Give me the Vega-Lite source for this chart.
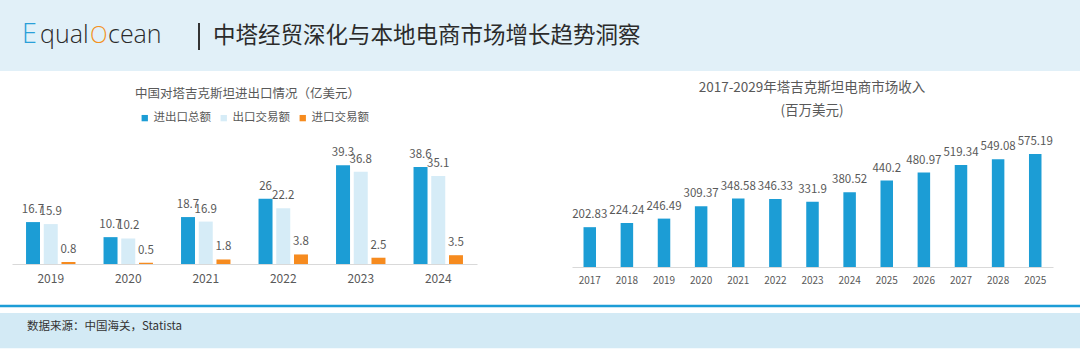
{
  "$schema": "https://vega.github.io/schema/vega-lite/v6.json",
  "width": 1080,
  "height": 362,
  "autosize": {"type": "none"},
  "padding": 0,
  "background": "#ffffff",
  "config": {"view": {"stroke": null}, "font": "Noto Sans CJK SC"},
  "datasets": {
    "trade": [
      {"年份": "2019", "类别": "进出口总额", "金额": 16.7},
      {"年份": "2019", "类别": "出口交易额", "金额": 15.9},
      {"年份": "2019", "类别": "进口交易额", "金额": 0.8},
      {"年份": "2020", "类别": "进出口总额", "金额": 10.7},
      {"年份": "2020", "类别": "出口交易额", "金额": 10.2},
      {"年份": "2020", "类别": "进口交易额", "金额": 0.5},
      {"年份": "2021", "类别": "进出口总额", "金额": 18.7},
      {"年份": "2021", "类别": "出口交易额", "金额": 16.9},
      {"年份": "2021", "类别": "进口交易额", "金额": 1.8},
      {"年份": "2022", "类别": "进出口总额", "金额": 26},
      {"年份": "2022", "类别": "出口交易额", "金额": 22.2},
      {"年份": "2022", "类别": "进口交易额", "金额": 3.8},
      {"年份": "2023", "类别": "进出口总额", "金额": 39.3},
      {"年份": "2023", "类别": "出口交易额", "金额": 36.8},
      {"年份": "2023", "类别": "进口交易额", "金额": 2.5},
      {"年份": "2024", "类别": "进出口总额", "金额": 38.6},
      {"年份": "2024", "类别": "出口交易额", "金额": 35.1},
      {"年份": "2024", "类别": "进口交易额", "金额": 3.5}
    ],
    "ecom": [
      {"年份": "2017", "标签": "2017", "收入": 202.83},
      {"年份": "2018", "标签": "2018", "收入": 224.24},
      {"年份": "2019", "标签": "2019", "收入": 246.49},
      {"年份": "2020", "标签": "2020", "收入": 309.37},
      {"年份": "2021", "标签": "2021", "收入": 348.58},
      {"年份": "2022", "标签": "2022", "收入": 346.33},
      {"年份": "2023", "标签": "2023", "收入": 331.9},
      {"年份": "2024", "标签": "2024", "收入": 380.52},
      {"年份": "2025", "标签": "2025", "收入": 440.2},
      {"年份": "2026", "标签": "2026", "收入": 480.97},
      {"年份": "2027", "标签": "2027", "收入": 519.34},
      {"年份": "2028", "标签": "2028", "收入": 549.08},
      {"年份": "2029", "标签": "2025", "收入": 575.19}
    ]
  },
  "layer": [
    {
      "data": {"values": [{"k": "header"}]},
      "mark": {"type": "rect", "color": "#e1f0f8"},
      "encoding": {"x": {"value": 0}, "x2": {"value": 1080}, "y": {"value": 0}, "y2": {"value": 71}}
    },
    {
      "data": {"values": [{"k": "line"}]},
      "mark": {"type": "rect", "color": "#1d9dd6"},
      "encoding": {"x": {"value": 0}, "x2": {"value": 1080}, "y": {"value": 304.8}, "y2": {"value": 307.3}}
    },
    {
      "data": {"values": [{"k": "footer"}]},
      "mark": {"type": "rect", "color": "#d3eaf5"},
      "encoding": {"x": {"value": 0}, "x2": {"value": 1080}, "y": {"value": 313}, "y2": {"value": 348.3}}
    },
    {
      "data": {"values": [{"t": "E"}]},
      "mark": {"type": "text", "font": "Open Sans", "fontWeight": 300, "fontSize": 27, "align": "left", "baseline": "alphabetic", "color": "#2a9fd8"},
      "encoding": {"text": {"field": "t"}, "x": {"value": 22}, "y": {"value": 43}}
    },
    {
      "data": {"values": [{"t": "qual"}]},
      "mark": {"type": "text", "font": "Open Sans", "fontWeight": 300, "fontSize": 25, "align": "left", "baseline": "alphabetic", "color": "#2a2a2a"},
      "encoding": {"text": {"field": "t"}, "x": {"value": 40}, "y": {"value": 43}}
    },
    {
      "data": {"values": [{"t": "O"}]},
      "mark": {"type": "text", "font": "Open Sans", "fontWeight": 300, "fontSize": 23, "align": "left", "baseline": "alphabetic", "color": "#f39222"},
      "encoding": {"text": {"field": "t"}, "x": {"value": 90}, "y": {"value": 43}}
    },
    {
      "data": {"values": [{"t": "cean"}]},
      "mark": {"type": "text", "font": "Open Sans", "fontWeight": 300, "fontSize": 25, "align": "left", "baseline": "alphabetic", "color": "#2a2a2a"},
      "encoding": {"text": {"field": "t"}, "x": {"value": 108}, "y": {"value": 43}}
    },
    {
      "data": {"values": [{"k": "sep"}]},
      "mark": {"type": "rule", "color": "#333333", "strokeWidth": 2},
      "encoding": {"x": {"value": 199}, "y": {"value": 23}, "y2": {"value": 50}}
    },
    {
      "data": {"values": [{"t": "中塔经贸深化与本地电商市场增长趋势洞察"}]},
      "mark": {"type": "text", "fontSize": 22.5, "align": "left", "baseline": "middle", "color": "#2b2b2b"},
      "encoding": {"text": {"field": "t"}, "x": {"value": 213}, "y": {"value": 36}}
    },
    {
      "data": {"values": [{"t": "中国对塔吉克斯坦进出口情况（亿美元）"}]},
      "mark": {"type": "text", "fontSize": 12.5, "align": "center", "baseline": "middle", "color": "#595959"},
      "encoding": {"text": {"field": "t"}, "x": {"value": 247.5}, "y": {"value": 94}}
    },
    {
      "data": {"values": [{"t": "2017-2029年塔吉克斯坦电商市场收入"}]},
      "mark": {"type": "text", "fontSize": 13.5, "align": "center", "baseline": "middle", "color": "#595959"},
      "encoding": {"text": {"field": "t"}, "x": {"value": 812}, "y": {"value": 88}}
    },
    {
      "data": {"values": [{"t": "(百万美元)"}]},
      "mark": {"type": "text", "fontSize": 13.5, "align": "center", "baseline": "middle", "color": "#595959"},
      "encoding": {"text": {"field": "t"}, "x": {"value": 812}, "y": {"value": 111}}
    },
    {
      "data": {"values": [{"t": "数据来源：中国海关，Statista"}]},
      "mark": {"type": "text", "fontSize": 11.5, "align": "left", "baseline": "middle", "color": "#333333"},
      "encoding": {"text": {"field": "t"}, "x": {"value": 27}, "y": {"value": 327}}
    },
    {
      "data": {"name": "trade"},
      "encoding": {
        "x": {
          "field": "年份", "type": "nominal",
          "scale": {"range": [12, 477], "paddingInner": 0.362, "paddingOuter": 0.181},
          "axis": {"orient": "bottom", "offset": -98, "title": null, "domainColor": "#d9d9d9", "domainWidth": 1, "ticks": false, "tickSize": 0, "labelPadding": 9, "labelFontSize": 12, "labelColor": "#595959", "labelAngle": 0, "labelFont": "Noto Sans CJK SC"}
        },
        "xOffset": {
          "field": "类别", "type": "nominal", "sort": ["进出口总额", "出口交易额", "进口交易额"],
          "scale": {"paddingInner": 0.21, "paddingOuter": 0}
        },
        "y": {
          "field": "金额", "type": "quantitative",
          "scale": {"domain": [0, 40], "range": [264, 163.6]},
          "axis": null
        }
      },
      "layer": [
        {
          "mark": {"type": "bar"},
          "encoding": {
            "color": {
              "field": "类别", "type": "nominal",
              "scale": {"domain": ["进出口总额", "出口交易额", "进口交易额"], "range": ["#1c9dd5", "#d6ecf7", "#f68b1f"]},
              "legend": {"orient": "none", "legendX": 139, "legendY": 112, "direction": "horizontal", "title": null, "symbolType": "square", "symbolSize": 40, "symbolStrokeWidth": 0, "labelFontSize": 11.5, "labelColor": "#595959", "labelOffset": 3, "columnPadding": 7, "labelFont": "Noto Sans CJK SC"}
            }
          }
        },
        {
          "mark": {"type": "text", "dy": -12, "fontSize": 11.5, "color": "#595959", "baseline": "middle"},
          "encoding": {"text": {"field": "金额", "type": "quantitative"}}
        }
      ]
    },
    {
      "data": {"name": "ecom"},
      "encoding": {
        "x": {
          "field": "年份", "type": "nominal",
          "scale": {"range": [572, 1053], "paddingInner": 0.663, "paddingOuter": 0.31},
          "axis": {"orient": "bottom", "offset": -95, "title": null, "labels": false, "ticks": false, "tickSize": 0, "domainColor": "#d9d9d9", "domainWidth": 1}
        },
        "y": {
          "field": "收入", "type": "quantitative",
          "scale": {"domain": [0, 600], "range": [267, 149.2]},
          "axis": null
        }
      },
      "layer": [
        {"mark": {"type": "bar", "color": "#1c9dd5"}},
        {
          "mark": {"type": "text", "dy": -12, "fontSize": 11.5, "color": "#595959", "baseline": "middle"},
          "encoding": {"text": {"field": "收入", "type": "quantitative"}}
        },
        {
          "mark": {"type": "text", "dy": 14, "fontSize": 10, "color": "#595959", "baseline": "middle"},
          "encoding": {"y": {"datum": 0}, "text": {"field": "标签", "type": "nominal"}}
        }
      ]
    }
  ],
  "resolve": {
    "scale": {"x": "independent", "y": "independent", "xOffset": "independent", "color": "independent"},
    "axis": {"x": "independent", "y": "independent"}
  }
}
